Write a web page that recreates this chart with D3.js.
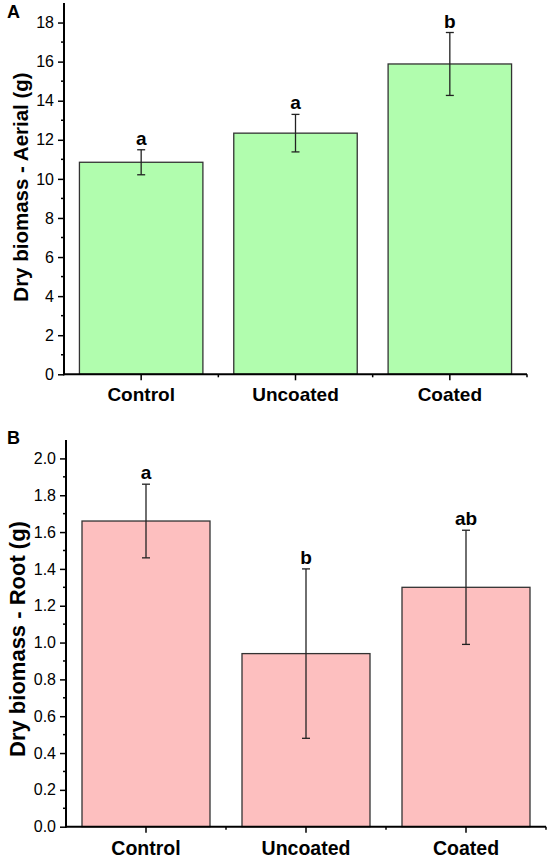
<!DOCTYPE html>
<html>
<head>
<meta charset="utf-8">
<script src="https://cdn.jsdelivr.net/npm/d3@7"></script>
<style>
  html, body { margin: 0; padding: 0; background: #fff; }
  svg { display: block; font-family: "Liberation Sans", Arial, sans-serif; }
</style>
</head>
<body>
<svg id="chart" width="551" height="859"></svg>
<script>
// ---- Data ----
const categories = ["Control", "Uncoated", "Coated"];

const aerialMean = [10.85, 12.34, 15.88];
const aerialErr  = [0.64, 0.96, 1.61];
const aerialLetters = ["a", "a", "b"];
const aerialTicks = [0, 2, 4, 6, 8, 10, 12, 14, 16, 18];

const rootMean = [1.66, 0.94, 1.30];
const rootErr  = [0.20, 0.46, 0.31];
const rootLetters = ["a", "b", "ab"];
const rootTicks = [0.0, 0.2, 0.4, 0.6, 0.8, 1.0, 1.2, 1.4, 1.6, 1.8, 2.0];

const svg = d3.select("#chart");

function panel(cfg) {
  const g = svg.append("g");
  const x = d3.scaleBand().domain(categories).range(cfg.xRange)
    .paddingInner(0.2).paddingOuter(0.1);
  const y = d3.scaleLinear().domain(cfg.yDomain).range(cfg.yRange);

  const data = categories.map((c, i) => ({ c, m: cfg.mean[i], e: cfg.err[i], l: cfg.letters[i] }));

  // bars
  g.selectAll("rect.bar").data(data).join("rect")
    .attr("class", "bar")
    .attr("x", d => x(d.c))
    .attr("width", x.bandwidth())
    .attr("y", d => y(d.m))
    .attr("height", d => y(0) - y(d.m))
    .attr("fill", cfg.fill)
    .attr("stroke", "#333")
    .attr("stroke-width", 1.3);

  // error bars
  const cap = 4;
  const eb = g.selectAll("g.err").data(data).join("g").attr("class", "err")
    .attr("stroke", "#222").attr("stroke-width", 1.3);
  eb.append("line")
    .attr("x1", d => x(d.c) + x.bandwidth() / 2).attr("x2", d => x(d.c) + x.bandwidth() / 2)
    .attr("y1", d => y(d.m + d.e)).attr("y2", d => y(d.m - d.e));
  eb.append("line")
    .attr("x1", d => x(d.c) + x.bandwidth() / 2 - cap).attr("x2", d => x(d.c) + x.bandwidth() / 2 + cap)
    .attr("y1", d => y(d.m + d.e)).attr("y2", d => y(d.m + d.e));
  eb.append("line")
    .attr("x1", d => x(d.c) + x.bandwidth() / 2 - cap).attr("x2", d => x(d.c) + x.bandwidth() / 2 + cap)
    .attr("y1", d => y(d.m - d.e)).attr("y2", d => y(d.m - d.e));

  // letters
  g.selectAll("text.letter").data(data).join("text")
    .attr("class", "letter")
    .attr("x", d => x(d.c) + x.bandwidth() / 2)
    .attr("y", d => y(d.m + d.e) - 5)
    .attr("text-anchor", "middle")
    .attr("font-size", 19).attr("font-weight", "bold")
    .text(d => d.l);

  // y axis
  const yAxis = d3.axisLeft(y).tickValues(cfg.ticks).tickFormat(cfg.fmt)
    .tickSize(6).tickPadding(4).tickSizeOuter(0);
  const ya = g.append("g").attr("transform", `translate(${cfg.xRange[0]},0)`).call(yAxis);
  ya.select(".domain").remove();
  ya.selectAll(".tick line").attr("stroke", "#000").attr("stroke-width", 1.5);
  ya.selectAll(".tick text").attr("font-size", 16).attr("fill", "#000")
    .attr("font-family", "Liberation Sans, Arial, sans-serif");
  // minor y ticks
  const minorY = [];
  for (let i = 0; i < cfg.ticks.length; i++) {
    const v = cfg.ticks[i] + cfg.minorStep;
    if (v < cfg.yDomain[1]) minorY.push(v);
  }
  g.selectAll("line.minory").data(minorY).join("line")
    .attr("class", "minory")
    .attr("x1", cfg.xRange[0] - 3).attr("x2", cfg.xRange[0])
    .attr("y1", d => y(d)).attr("y2", d => y(d))
    .attr("stroke", "#000").attr("stroke-width", 1.5);

  // x ticks (major at centers, minor at boundaries)
  const step = x.step();
  g.selectAll("line.majorx").data(categories).join("line")
    .attr("class", "majorx")
    .attr("x1", d => x(d) + x.bandwidth() / 2).attr("x2", d => x(d) + x.bandwidth() / 2)
    .attr("y1", y(0)).attr("y2", y(0) + 6)
    .attr("stroke", "#000").attr("stroke-width", 1.5);
  const minorX = categories.map(c => x(c) + x.bandwidth() / 2 + step / 2);
  g.selectAll("line.minorx").data(minorX).join("line")
    .attr("class", "minorx")
    .attr("x1", d => d).attr("x2", d => d)
    .attr("y1", y(0)).attr("y2", y(0) + 3)
    .attr("stroke", "#000").attr("stroke-width", 1.5);

  // axis lines
  g.append("line")
    .attr("x1", cfg.xRange[0]).attr("x2", cfg.xRange[0])
    .attr("y1", cfg.yRange[0] + 1).attr("y2", cfg.yRange[1])
    .attr("stroke", "#000").attr("stroke-width", 2);
  g.append("line")
    .attr("x1", cfg.xRange[0] - 1).attr("x2", cfg.xRange[1])
    .attr("y1", cfg.yRange[0]).attr("y2", cfg.yRange[0])
    .attr("stroke", "#000").attr("stroke-width", 2);

  // x labels
  g.selectAll("text.xlab").data(categories).join("text")
    .attr("class", "xlab")
    .attr("x", d => x(d) + x.bandwidth() / 2)
    .attr("y", cfg.xLabelY)
    .attr("text-anchor", "middle")
    .attr("font-size", cfg.xLabelSize).attr("font-weight", "bold")
    .text(d => d);

  // y title
  g.append("text")
    .attr("transform", `translate(${cfg.yTitleX},${cfg.yTitleY}) rotate(-90)`)
    .attr("text-anchor", "middle")
    .attr("font-size", cfg.yTitleSize).attr("font-weight", "bold")
    .text(cfg.yTitle);

  // panel letter
  g.append("text")
    .attr("x", 7).attr("y", cfg.letterY)
    .attr("font-size", 18).attr("font-weight", "bold")
    .text(cfg.panel);
}

panel({
  panel: "A", letterY: 18,
  mean: aerialMean, err: aerialErr, letters: aerialLetters,
  ticks: aerialTicks, minorStep: 1, fmt: d3.format("d"),
  xRange: [64, 527], yDomain: [0, 19], yRange: [374.3, 3],
  fill: "#b1fdae",
  xLabelY: 401, xLabelSize: 19,
  yTitle: "Dry biomass - Aerial (g)", yTitleX: 27.5, yTitleY: 187, yTitleSize: 20.5
});

panel({
  panel: "B", letterY: 444,
  mean: rootMean, err: rootErr, letters: rootLetters,
  ticks: rootTicks, minorStep: 0.1, fmt: d3.format(".1f"),
  xRange: [66, 546], yDomain: [0, 2.1], yRange: [826.7, 440],
  fill: "#fdbfbf",
  xLabelY: 855, xLabelSize: 19.5,
  yTitle: "Dry biomass - Root (g)", yTitleX: 25, yTitleY: 639, yTitleSize: 22
});
</script>
</body>
</html>
